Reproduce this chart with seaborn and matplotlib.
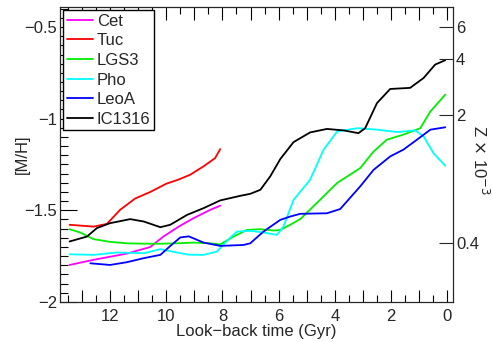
import numpy as np
import pandas as pd
import matplotlib
matplotlib.use("Agg")
import matplotlib.pyplot as plt
import seaborn as sns
from matplotlib.ticker import MultipleLocator, FixedLocator, NullLocator, FuncFormatter

# --- data (look-back time in Gyr, [M/H]) ---
cet_t = [13.44, 12.59, 11.4, 10.57, 10.1, 9.56, 9.03, 8.43, 8.08]
cet_m = [-1.798, -1.77, -1.736, -1.70, -1.643, -1.589, -1.543, -1.497, -1.475]

tuc_t = [13.44, 12.9, 12.59, 12.11, 11.64, 11.1, 10.57, 10.0, 9.56, 9.15, 8.67, 8.26, 8.08]
tuc_m = [-1.579, -1.585, -1.589, -1.574, -1.497, -1.435, -1.40, -1.355, -1.332, -1.306, -1.26, -1.215, -1.166]

lgs3_t = [13.44, 13.06, 12.59, 12.0, 11.4, 10.8, 10.21, 9.62, 9.03, 8.43, 8.08, 7.6,
          7.13, 6.65, 6.18, 5.94, 5.59, 5.23, 4.64, 3.92, 3.1, 2.62, 2.15, 1.56, 0.96, 0.6, 0.07]
lgs3_m = [-1.603, -1.621, -1.657, -1.672, -1.68, -1.682, -1.682, -1.68, -1.676, -1.68, -1.686, -1.643,
          -1.607, -1.603, -1.61, -1.607, -1.579, -1.548, -1.46, -1.351, -1.27, -1.179, -1.115, -1.087,
          -1.052, -0.961, -0.869]

pho_t = [13.44, 12.59, 11.75, 10.8, 10.21, 9.62, 9.2, 8.67, 8.2, 7.8, 7.48, 7.0, 6.54, 6.06,
         5.83, 5.47, 4.88, 4.4, 3.92, 3.21, 2.5, 1.79, 1.14, 0.84, 0.49, 0.07]
pho_m = [-1.74, -1.743, -1.73, -1.734, -1.712, -1.73, -1.742, -1.743, -1.725, -1.66, -1.616, -1.612,
         -1.621, -1.634, -1.589, -1.443, -1.333, -1.169, -1.07, -1.052, -1.06, -1.073, -1.064, -1.097,
         -1.188, -1.257]

leoa_t = [12.7, 12.0, 11.4, 10.8, 10.21, 9.86, 9.5, 9.2, 8.67, 8.08, 7.25, 7.01, 6.54, 5.94,
          5.59, 5.23, 4.28, 3.81, 3.1, 2.62, 2.03, 1.56, 1.08, 0.6, 0.07]
leoa_m = [-1.789, -1.798, -1.783, -1.761, -1.743, -1.695, -1.648, -1.642, -1.676, -1.694, -1.689, -1.68,
          -1.616, -1.552, -1.534, -1.519, -1.516, -1.493, -1.37, -1.279, -1.206, -1.169, -1.115, -1.06,
          -1.047]

ic1316_t = [13.44, 12.82, 12.47, 12.0, 11.28, 10.8, 10.21, 9.86, 9.26, 8.67, 8.08, 7.37, 7.01,
            6.65, 6.3, 5.94, 5.47, 4.88, 4.28, 3.69, 3.16, 2.92, 2.5, 2.03, 1.32, 0.84, 0.43, 0.07]
ic1316_m = [-1.67, -1.643, -1.597, -1.57, -1.548, -1.561, -1.592, -1.579, -1.525, -1.488, -1.446, -1.421,
            -1.41, -1.388, -1.315, -1.22, -1.128, -1.075, -1.056, -1.064, -1.079, -1.052, -0.915, -0.838,
            -0.832, -0.778, -0.705, -0.681]

names = ["Cet", "Tuc", "LGS3", "Pho", "LeoA", "IC1316"]
colors = ["#ff00ff", "#ff0000", "#00ee00", "#00ffff", "#0000ff", "#000000"]
z_ticks = [0.4, 2, 4, 6]
z_sun = 19.0  # in units of 1e-3

series = [(cet_t, cet_m), (tuc_t, tuc_m), (lgs3_t, lgs3_m),
          (pho_t, pho_m), (leoa_t, leoa_m), (ic1316_t, ic1316_m)]
df = pd.concat([pd.DataFrame({"t": t, "mh": m, "gal": n})
                for n, (t, m) in zip(names, series)], ignore_index=True)

FS = 12
sns.set_style("ticks")
plt.rcParams["font.family"] = ["Liberation Sans", "DejaVu Sans"]
plt.rcParams["font.size"] = FS

fig = plt.figure(figsize=(4.92, 3.42), dpi=100)
ax = fig.add_axes([0.122, 0.117, 0.799, 0.863])

sns.lineplot(data=df, x="t", y="mh", hue="gal", hue_order=names,
             palette=dict(zip(names, colors)), estimator=None, sort=False,
             linewidth=1.3, ax=ax)

ylo, yhi = -2.0, -0.39
ax.set_xlim(13.78, -0.21)
ax.set_ylim(ylo, yhi)

ax.xaxis.set_major_locator(MultipleLocator(1))
ax.xaxis.set_minor_locator(MultipleLocator(0.5))
ax.xaxis.set_major_formatter(FuncFormatter(lambda v, p: f"{int(round(v))}" if round(v) % 2 == 0 else ""))
ax.yaxis.set_major_locator(MultipleLocator(0.5))
ax.yaxis.set_minor_locator(MultipleLocator(0.05))
ax.yaxis.set_major_formatter(FuncFormatter(lambda v, p: f"{v:g}".replace("-", "\u2212")))

ax.tick_params(which="both", direction="in", top=True, right=False, color="black", width=0.8)
ax.tick_params(axis="x", which="major", length=9, pad=5, labelsize=FS)
ax.tick_params(axis="x", which="minor", length=5)
ax.tick_params(axis="y", which="major", length=12, pad=2, labelsize=FS)
ax.tick_params(axis="y", which="minor", length=6)

ax.set_xlabel("Look\u2212back time (Gyr)", fontsize=FS)
ax.xaxis.set_label_coords(0.5, -0.115)
ax.xaxis.label.set_va("baseline")
ax.set_ylabel("[M/H]", fontsize=FS)
ax.yaxis.set_label_coords(-0.095, 0.5)
ax.yaxis.label.set_va("center")

for s in ax.spines.values():
    s.set_linewidth(0.8)
    s.set_color("black")

ax2 = ax.twinx()
ax2.set_yscale("log")
ax2.set_ylim(z_sun * 10 ** ylo, z_sun * 10 ** yhi)
ax2.yaxis.set_major_locator(FixedLocator(z_ticks))
ax2.yaxis.set_minor_locator(NullLocator())
ax2.set_yticklabels([f"{v:g}" for v in z_ticks])
ax2.tick_params(axis="y", direction="in", length=10, width=0.8, pad=2, labelsize=FS)
ax2.set_ylabel(r"Z $\times$ 10$^{-3}$", fontsize=FS, rotation=270)
ax2.yaxis.set_label_coords(1.069, 0.48)
ax2.yaxis.label.set_va("center")
ax2.yaxis.label.set_ha("center")

leg = ax.legend(loc="upper left", frameon=True, fancybox=False, framealpha=1,
                edgecolor="black", fontsize=FS, handlelength=1.6, handletextpad=0.2,
                labelspacing=0.28, borderpad=0.2, borderaxespad=0.2)
leg.get_frame().set_linewidth(1.0)
for h in leg.get_lines():
    h.set_linewidth(1.3)

fig.savefig("out.png", dpi=100)
